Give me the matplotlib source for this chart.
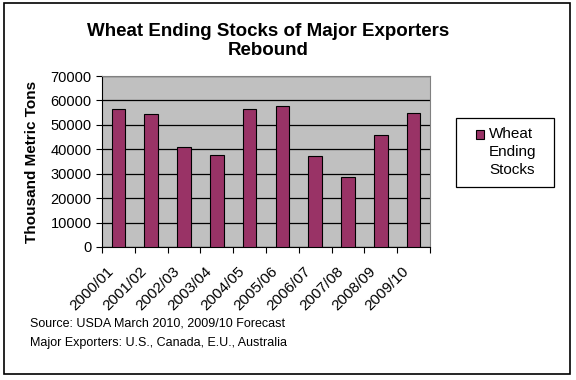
import matplotlib.pyplot as plt
from matplotlib.patches import Rectangle
from matplotlib.transforms import ScaledTranslation
import numpy as np

plt.rcParams['font.family'] = ['Liberation Sans', 'DejaVu Sans']

# data
years = ['2000/01', '2001/02', '2002/03', '2003/04', '2004/05',
         '2005/06', '2006/07', '2007/08', '2008/09', '2009/10']
stocks = [56400, 54300, 40800, 37500, 56400, 57600, 37100, 28500, 45700, 54700]
legend_lines = ['Wheat', 'Ending', 'Stocks']
bar_color = '#993366'

W, H = 576, 380
fig = plt.figure(figsize=(W/100, H/100), dpi=100)
ax = fig.add_axes([102/W, 1 - 247/H, 328/W, 171/H])

x = np.arange(len(years))
ax.bar(x, stocks, width=0.41, color=bar_color, edgecolor='black', linewidth=0.8,
       zorder=3)

ax.set_facecolor('#C0C0C0')
ax.set_xlim(-0.5, len(years) - 0.5)
ax.set_ylim(0, 70000)
ax.set_yticks(np.arange(0, 70001, 10000))
ax.yaxis.grid(True, color='black', linewidth=0.9, zorder=1)
ax.set_axisbelow(True)

# tick marks between categories, labels drawn at category centres
ax.set_xticks(np.arange(-0.5, len(years)))
ax.set_xticklabels([])
ax.tick_params(axis='x', length=4, direction='out', width=0.8)
ax.tick_params(axis='y', length=4, direction='out', width=0.8, labelsize=10.5)

lab_tr = ax.get_xaxis_transform() + ScaledTranslation(-7/100, -22/100, fig.dpi_scale_trans)
for xi, yr in zip(x, years):
    ax.text(xi, 0, yr, transform=lab_tr, rotation=45, rotation_mode='anchor',
            ha='right', va='center', fontsize=11)

for s in ['top', 'right']:
    ax.spines[s].set_color('#808080')
for s in ['left', 'bottom']:
    ax.spines[s].set_color('black')

ax.set_ylabel('Thousand Metric Tons', fontsize=11, fontweight='bold', labelpad=8)

fig.text(268/W, 1 - 41/H, 'Wheat Ending Stocks of Major Exporters\nRebound',
         ha='center', va='center', fontsize=13.5, fontweight='bold', linespacing=1.15)

# legend box
fig.patches.append(Rectangle((456/W, 1 - 187/H), 98/W, 69/H, transform=fig.transFigure,
                             facecolor='white', edgecolor='black', linewidth=0.9))
fig.patches.append(Rectangle((476/W, 1 - 139/H), 8/W, 9/H, transform=fig.transFigure,
                             facecolor=bar_color, edgecolor='black', linewidth=0.8))
for i, line in enumerate(legend_lines):
    fig.text(489/W, 1 - (134 + 18*i)/H, line, fontsize=11, va='center', ha='left')

fig.text(30/W, 1 - 323/H, 'Source: USDA March 2010, 2009/10 Forecast',
         fontsize=9, va='center')
fig.text(30/W, 1 - 343/H, 'Major Exporters: U.S., Canada, E.U., Australia',
         fontsize=9, va='center')

fig.patches.append(Rectangle((4/W, 1 - 374/H), 566/W, 371/H,
                             transform=fig.transFigure, fill=False,
                             edgecolor='black', linewidth=1.2))

fig.savefig('out.png', dpi=100)
